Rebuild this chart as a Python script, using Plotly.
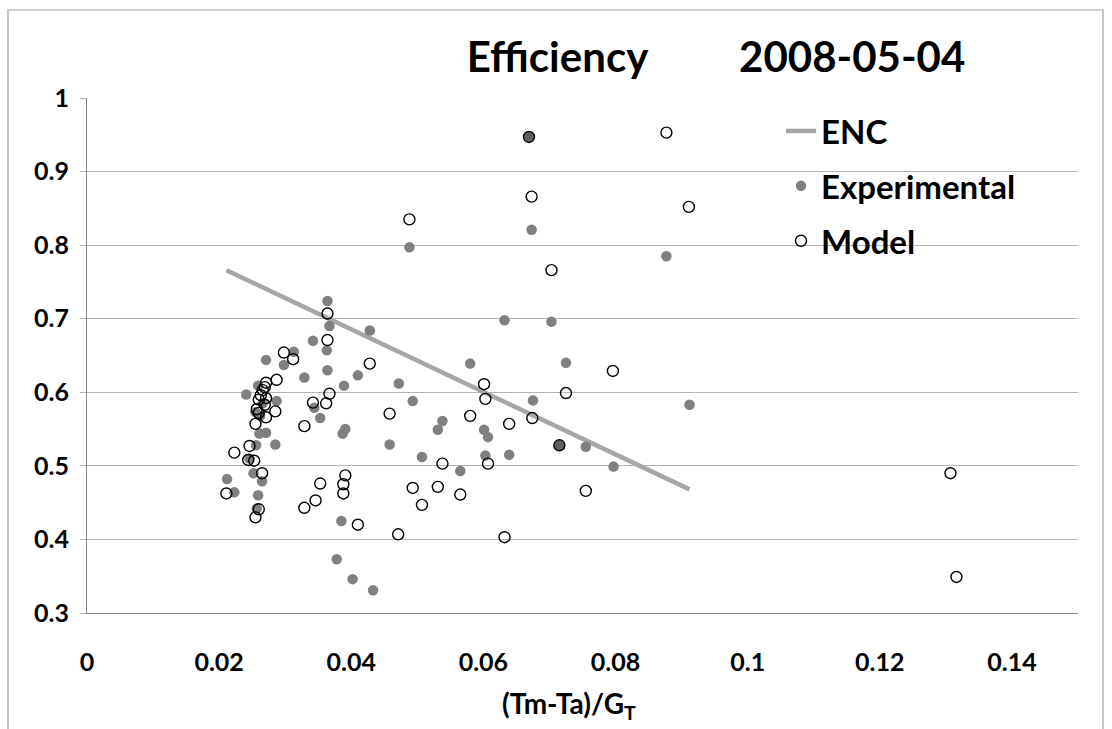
import plotly.graph_objects as go

# ---------------- data ----------------
exp_x = [0.0212, 0.0223, 0.0241, 0.0246, 0.0252, 0.0255, 0.0256, 0.0257, 0.0259, 0.0259,
         0.0261, 0.0262, 0.0265, 0.0266, 0.0271, 0.0271, 0.0285, 0.0287, 0.0298, 0.0313,
         0.0329, 0.0342, 0.0344, 0.0353, 0.0363, 0.0364, 0.0364, 0.0367, 0.0378, 0.0385,
         0.0387, 0.0389, 0.0391, 0.0402, 0.0410, 0.0428, 0.0433, 0.0458, 0.0472, 0.0488,
         0.0493, 0.0507, 0.0531, 0.0538, 0.0565, 0.0580, 0.0601, 0.0603, 0.0607, 0.0632,
         0.0639, 0.0669, 0.0673, 0.0675, 0.0703, 0.0715, 0.0725, 0.0755, 0.0797, 0.0877,
         0.0912]
exp_y = [0.482, 0.464, 0.597, 0.510, 0.490, 0.573, 0.528, 0.442, 0.460, 0.609,
         0.544, 0.568, 0.479, 0.585, 0.545, 0.644, 0.529, 0.588, 0.637, 0.655,
         0.620, 0.670, 0.579, 0.565, 0.657, 0.630, 0.724, 0.690, 0.373, 0.425,
         0.544, 0.609, 0.550, 0.346, 0.623, 0.684, 0.331, 0.529, 0.612, 0.797,
         0.588, 0.512, 0.549, 0.561, 0.493, 0.639, 0.549, 0.514, 0.539, 0.698,
         0.515, 0.947, 0.821, 0.589, 0.696, 0.528, 0.640, 0.526, 0.499, 0.785,
         0.583]

model_x = [0.0211, 0.0223, 0.0244, 0.0246, 0.0253, 0.0255, 0.0255, 0.0257, 0.0260, 0.0260,
           0.0260, 0.0263, 0.0265, 0.0266, 0.0269, 0.0269, 0.0271, 0.0271, 0.0271, 0.0285,
           0.0287, 0.0298, 0.0312, 0.0329, 0.0329, 0.0342, 0.0346, 0.0353, 0.0362, 0.0364,
           0.0364, 0.0367, 0.0388, 0.0388, 0.0391, 0.0410, 0.0428, 0.0458, 0.0471, 0.0488,
           0.0493, 0.0507, 0.0531, 0.0538, 0.0565, 0.0580, 0.0601, 0.0603, 0.0607, 0.0632,
           0.0639, 0.0669, 0.0673, 0.0674, 0.0703, 0.0715, 0.0725, 0.0755, 0.0796, 0.0877,
           0.0911, 0.1307, 0.1316]
model_y = [0.4625, 0.518, 0.508, 0.527, 0.507, 0.430, 0.557, 0.577, 0.441, 0.572,
           0.590, 0.596, 0.490, 0.603, 0.607, 0.583, 0.566, 0.592, 0.613, 0.574,
           0.617, 0.654, 0.645, 0.443, 0.554, 0.586, 0.453, 0.476, 0.585, 0.671,
           0.707, 0.598, 0.4625, 0.475, 0.487, 0.420, 0.639, 0.571, 0.407, 0.835,
           0.470, 0.447, 0.4715, 0.503, 0.461, 0.568, 0.611, 0.591, 0.503, 0.403,
           0.557, 0.947, 0.866, 0.565, 0.766, 0.528, 0.599, 0.466, 0.629, 0.953,
           0.852, 0.490, 0.349]

enc_x = [0.0211, 0.0912]
enc_y = [0.766, 0.468]

x_tick_vals = [0, 0.02, 0.04, 0.06, 0.08, 0.1, 0.12, 0.14]
x_tick_text = ["0", "0.02", "0.04", "0.06", "0.08", "0.1", "0.12", "0.14"]
y_tick_vals = [0.3, 0.4, 0.5, 0.6, 0.7, 0.8, 0.9, 1.0]
y_tick_text = ["0.3", "0.4", "0.5", "0.6", "0.7", "0.8", "0.9", "1"]

series_names = ["ENC", "Experimental", "Model"]
title_left = "Efficiency"
title_right = "2008-05-04"
x_title = "(Tm-Ta)/G<sub>T</sub>"

# ---------------- layout constants ----------------
W, H = 1112, 729
ML, MR, MT, MB = 87, 34, 98, 116
PW, PH = W - ML - MR, H - MT - MB
FONT = "Lato"


def px_x(p):
    return (p - ML) / PW


def px_y(p):
    return (H - MB - p) / PH


# darker fill where an experimental point sits exactly under a model point
model_pts = set(zip(model_x, model_y))
exp_colors = ["#5f5f5f" if (x, y) in model_pts else "#808080" for x, y in zip(exp_x, exp_y)]

fig = go.Figure()
fig.add_trace(go.Scatter(
    x=enc_x, y=enc_y, mode="lines", name=series_names[0], legendgroup="a",
    line=dict(color="#a6a6a6", width=4.5),
))
fig.add_trace(go.Scatter(
    x=exp_x, y=exp_y, mode="markers", name=series_names[1], legendgroup="b",
    marker=dict(symbol="circle", size=10.5, color=exp_colors, line=dict(width=0)),
))
fig.add_trace(go.Scatter(
    x=model_x, y=model_y, mode="markers", name=series_names[2], legendgroup="c",
    marker=dict(symbol="circle-open", size=11, color="#000000", line=dict(width=1.4)),
))

axis_grey = "#868686"
grid_grey = "#b4b4b4"

fig.update_layout(
    width=W, height=H,
    margin=dict(l=ML, r=MR, t=MT, b=MB),
    paper_bgcolor="white", plot_bgcolor="white",
    font=dict(family=FONT, color="black"),
    title=dict(
        text=title_left + "\u00a0" * 9 + title_right,
        font=dict(family=FONT, size=42, weight="bold", color="black"),
        x=px_x(716), xanchor="center", xref="paper",
        y=1 - 57 / H, yanchor="middle", yref="container",
    ),
    xaxis=dict(
        range=[0, 0.15], tickvals=x_tick_vals, ticktext=x_tick_text,
        showgrid=False, zeroline=False, showline=True, linecolor=axis_grey, linewidth=1,
        ticks="", ticklabelstandoff=27,
        tickfont=dict(family=FONT, size=25, weight="bold", color="black"),
    ),
    yaxis=dict(
        range=[0.3, 1.0], tickvals=y_tick_vals, ticktext=y_tick_text,
        showgrid=True, gridcolor=grid_grey, gridwidth=1.2, zeroline=False,
        showline=True, linecolor=axis_grey, linewidth=1,
        ticks="outside", ticklen=6, tickcolor=grid_grey, ticklabelstandoff=6,
        tickfont=dict(family=FONT, size=25, weight="bold", color="black"),
    ),
    legend=dict(
        x=px_x(781), y=px_y(103), xanchor="left", yanchor="top",
        bgcolor="rgba(0,0,0,0)", borderwidth=0, tracegroupgap=9,
        font=dict(family=FONT, size=33, weight="bold", color="black"),
    ),
    showlegend=True,
    annotations=[
        dict(text=x_title, xref="paper", yref="paper", x=px_x(569), y=px_y(705),
             xanchor="center", yanchor="middle", showarrow=False,
             font=dict(family=FONT, size=28, weight="bold", color="black")),
    ],
    shapes=[
        # white legend box covering the gridlines behind it (inside the plot area)
        dict(type="rect", xref="paper", yref="paper",
             x0=px_x(726), x1=px_x(1078), y0=px_y(275), y1=px_y(103),
             fillcolor="white", line=dict(width=0), layer="between"),
        # outer chart border
        dict(type="rect", xref="paper", yref="paper",
             x0=px_x(8), x1=px_x(1103), y0=px_y(740), y1=px_y(10),
             fillcolor="rgba(0,0,0,0)", line=dict(color="#a0a0a0", width=1.2), layer="above"),
    ],
)

fig.write_html("out.html", config={"displayModeBar": False},
               post_script="document.body.style.margin='0';")
